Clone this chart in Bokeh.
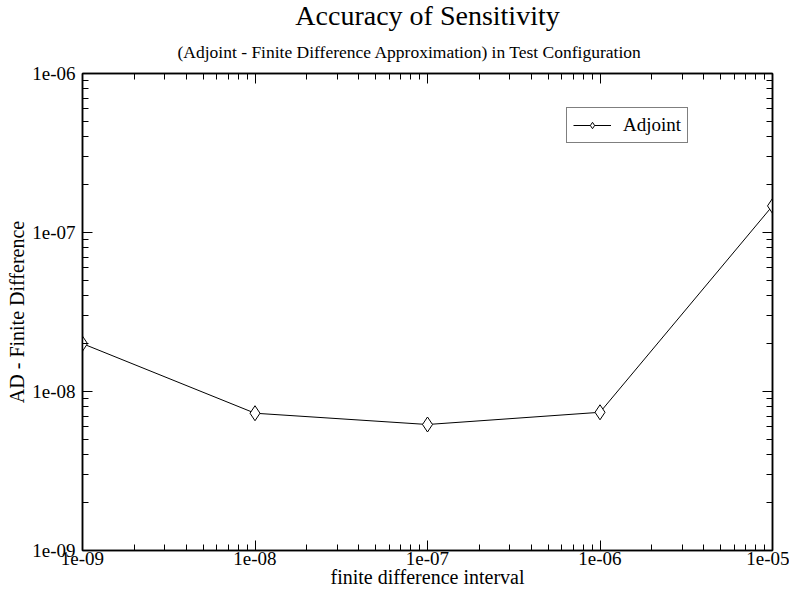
from bokeh.plotting import figure
from bokeh.models import (FixedTicker, LogAxis, Legend, LegendItem, Title,
                          CustomJSTickFormatter)
from bokeh.embed import file_html
from bokeh.resources import INLINE

# ---- data ----
fd_interval = [1e-9, 1e-8, 1e-7, 1e-6, 1e-5]
ad_minus_fd = [2.0e-8, 7.3e-9, 6.2e-9, 7.4e-9, 1.47e-7]

x_ticks = [1e-9, 1e-8, 1e-7, 1e-6, 1e-5]
x_tick_labels = ["1e-09", "1e-08", "1e-07", "1e-06", "1e-05"]
y_ticks = [1e-9, 1e-8, 1e-7, 1e-6]
y_tick_labels = ["1e-09", "1e-08", "1e-07", "1e-06"]

title_text = "Accuracy of Sensitivity"
subtitle_text = "(Adjoint - Finite Difference Approximation) in Test Configuration"
x_label = "finite difference interval"
y_label = "AD - Finite Difference"
series_name = "Adjoint"

FONT = "Liberation Serif"


def minor_list(majors):
    out = []
    for m in majors[:-1]:
        for k in range(2, 10):
            out.append(m * k)
    return out


def make_formatter(tvals, tlabels):
    return CustomJSTickFormatter(args=dict(tvals=tvals, tlabels=tlabels), code="""
        let best = 0, bd = Infinity;
        for (let i = 0; i < tvals.length; i++) {
            const d = Math.abs(Math.log10(tick) - Math.log10(tvals[i]));
            if (d < bd) { bd = d; best = i; }
        }
        return tlabels[best];
    """)


p = figure(width=789, height=590, x_axis_type="log", y_axis_type="log",
           x_range=(x_ticks[0], x_ticks[-1]), y_range=(y_ticks[0], y_ticks[-1]),
           output_backend="svg", toolbar_location=None,
           min_border_left=82, min_border_right=17, min_border_top=10,
           min_border_bottom=30)
p.background_fill_color = "white"
p.border_fill_color = "white"
p.outline_line_color = "black"
p.outline_line_width = 1.5
p.xgrid.visible = False
p.ygrid.visible = False

xticker = FixedTicker(ticks=x_ticks, minor_ticks=minor_list(x_ticks))
yticker = FixedTicker(ticks=y_ticks, minor_ticks=minor_list(y_ticks))


def style_axis(ax, show_labels=True):
    ax.axis_line_color = "black"
    ax.axis_line_width = 1.5
    ax.major_tick_in = 10
    ax.major_tick_out = 0
    ax.minor_tick_in = 6
    ax.minor_tick_out = 0
    ax.major_tick_line_color = "black"
    ax.minor_tick_line_color = "black"
    ax.major_tick_line_width = 1
    ax.minor_tick_line_width = 1
    ax.major_label_text_font = FONT
    ax.major_label_text_color = "black"
    ax.axis_label_text_font = FONT
    ax.axis_label_text_font_style = "normal"
    ax.axis_label_text_color = "black"
    if not show_labels:
        ax.major_label_text_font_size = "1px"
        ax.major_label_text_alpha = 0
        ax.major_label_standoff = 0
        ax.axis_label_standoff = 0


xa = p.xaxis[0]
xa.ticker = xticker
xa.formatter = make_formatter(x_ticks, x_tick_labels)
style_axis(xa)
xa.major_label_text_font_size = "19px"
xa.major_label_standoff = 1
xa.axis_label = x_label
xa.axis_label_text_font_size = "20px"
xa.axis_label_standoff = -2

ya = p.yaxis[0]
ya.ticker = yticker
ya.formatter = make_formatter(y_ticks, y_tick_labels)
style_axis(ya)
ya.major_label_text_font_size = "19px"
ya.major_label_standoff = 7
ya.axis_label = y_label
ya.axis_label_text_font_size = "20px"
ya.axis_label_standoff = 1

ra = LogAxis(ticker=yticker, formatter=CustomJSTickFormatter(code="return ''"))
style_axis(ra, show_labels=False)
p.add_layout(ra, "right")

ta = LogAxis(ticker=xticker, formatter=CustomJSTickFormatter(code="return ''"))
style_axis(ta, show_labels=False)
p.add_layout(ta, "above")

p.add_layout(Title(text=subtitle_text, align="left", offset=95, text_font=FONT,
                   text_font_size="17.5px", text_font_style="normal",
                   text_color="black", standoff=24), "above")
p.add_layout(Title(text=title_text, align="center", text_font=FONT,
                   text_font_size="28px", text_font_style="normal",
                   text_color="black", standoff=-6), "above")

line = p.line(fd_interval, ad_minus_fd, line_color="black", line_width=1)
pts = p.scatter(fd_interval, ad_minus_fd, marker="diamond", size=15,
                fill_color="white", line_color="black", line_width=1)

legend = Legend(items=[LegendItem(label=series_name, renderers=[line, pts])],
                location=(484, 407), orientation="vertical")
legend.label_text_font = FONT
legend.label_text_font_size = "19px"
legend.label_text_color = "black"
legend.border_line_color = "black"
legend.border_line_width = 1
legend.background_fill_color = "white"
legend.background_fill_alpha = 1
legend.glyph_width = 38
legend.glyph_height = 16
legend.label_standoff = 12
legend.padding = 6
legend.margin = 0
p.add_layout(legend)

open("out.html", "w").write(file_html(p, INLINE))
